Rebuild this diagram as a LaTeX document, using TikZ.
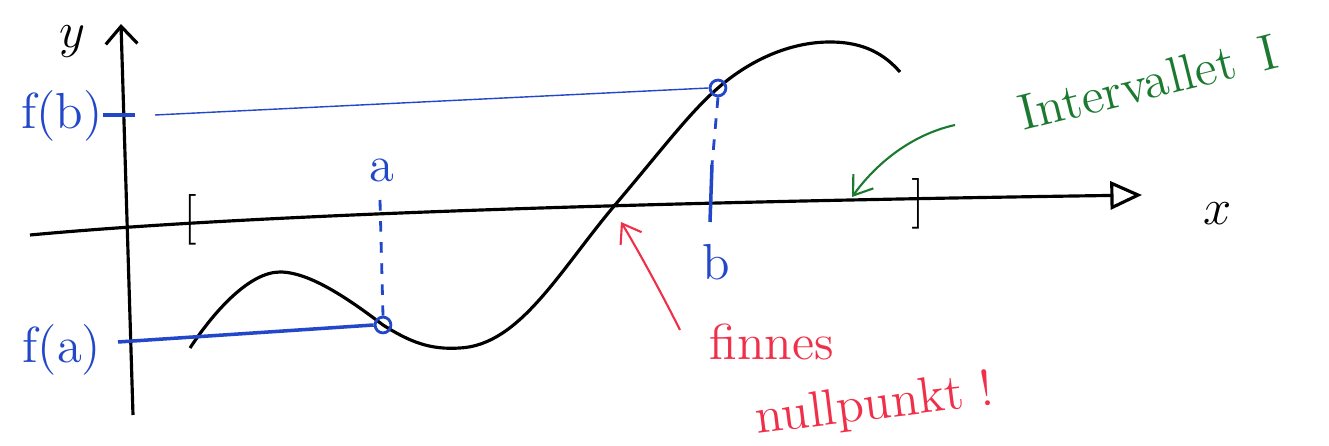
\documentclass[tikz,border=0pt]{standalone}
\usepackage{tikz}
\usetikzlibrary{arrows.meta, positioning, calc}
\definecolor{penblue}{HTML}{2247C8}
\definecolor{pengreen}{HTML}{1B7A30}
\definecolor{penred}{HTML}{F0304A}

\begin{document}
\begin{tikzpicture}[
    x=0.01cm, y=-0.01cm,
    axis/.style={line width=0.9pt, black},
    curve/.style={line width=0.9pt, black},
    helpline/.style={line width=0.4pt, penblue},
    dropline/.style={line width=0.8pt, penblue, dash pattern=on 3pt off 3pt},
    bluelabel/.style={text=penblue, font=\Large},
    pointmark/.style={circle, draw=penblue, line width=0.8pt, inner sep=0pt, minimum size=4.5pt},
    remark/.style={font=\Large, align=left, inner sep=1pt},
    pointer/.style={-{Straight Barb[length=5pt, width=7pt]}, line width=0.6pt},
]
  \useasboundingbox (0,0) rectangle (1329,446);

  % Axes
  \coordinate (yfoot) at (133,415);
  \coordinate (ytop) at (121,24);
  \coordinate (xfoot) at (30,235);
  \coordinate (xtop) at (1142,195);
  \draw[axis, -{Straight Barb[length=5pt, width=9pt]}] (yfoot) -- (ytop);
  \draw[axis, -{Triangle[open, length=9pt, width=8pt]}] (xfoot) .. controls (300,210) and (800,200) .. (xtop);
  \node[font=\Large] (ylabel) at (72,42) {$y$};
  \node[font=\Large] (xlabel) at (1218,214) {$x$};

  % Interval ends
  \node[font=\Large] (lbrack) at (190,220) {[};
  \node[font=\Large] (rbrack) at (918,204) {]};

  % The function
  \draw[curve] (190,348) .. controls (215,310) and (250,272) .. (280,272)
      .. controls (310,272) and (350,300) .. (383,325)
      .. controls (410,342) and (430,350) .. (460,348)
      .. controls (520,345) and (560,270) .. (615,205)
      .. controls (660,152) and (690,112) .. (718,88)
      .. controls (750,60) and (790,42) .. (830,42)
      .. controls (865,42) and (885,55) .. (900,72);

  % f(a) and a
  \node[pointmark] (fa) at (383,325) {};
  \node[bluelabel] (falabel) at (62,350) {f(a)};
  \node[bluelabel] (alabel) at (382,170) {a};
  \coordinate (atick) at (380,200);
  \coordinate (fatick) at (118,342);
  \draw[helpline, line width=1pt] (fatick) -- (fa.west);
  \draw[dropline] (atick) -- (fa.north);

  % f(b) and b
  \node[pointmark] (fb) at (718,88) {};
  \node[bluelabel] (fblabel) at (62,116) {f(b)};
  \node[bluelabel] (blabel) at (716,262) {b};
  \coordinate (btick) at (710,222);
  \coordinate (bmid) at (712,165);
  \draw[helpline, line width=1pt] (103,115) -- (135,115);
  \draw[helpline] (155,115) -- (fb.west);
  \draw[dropline] (fb.south) -- (bmid);
  \draw[helpline, line width=1pt] (bmid) -- (btick);

  % Zero crossing
  \coordinate (zero) at (621,222);
  \node[remark, text=penred] (finnes) at (772,342) {finnes};
  \node[remark, text=penred, rotate=7] (nullpunkt) at (875,406) {nullpunkt !};
  \coordinate (redstart) at (680,330);
  \draw[pointer, penred] (redstart) .. controls (660,290) and (635,245) .. (zero);

  % Interval
  \node[remark, text=pengreen, rotate=14] (intervall) at (1148,82) {Intervallet\enspace I};
  \coordinate (greenstart) at (955,125);
  \coordinate (greentip) at (852,197);
  \draw[pointer, pengreen] (greenstart) .. controls (910,135) and (875,165) .. (greentip);
\end{tikzpicture}
\end{document}
